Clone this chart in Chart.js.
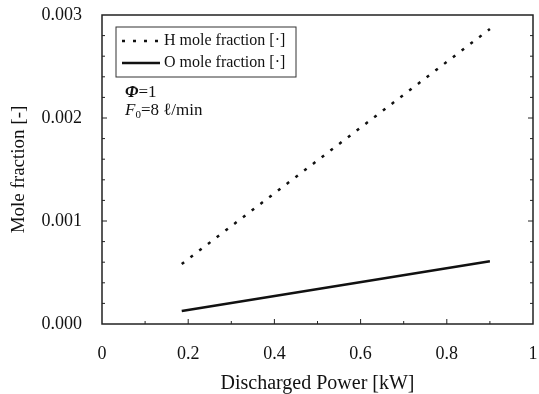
<!DOCTYPE html>
<html>
<head>
<meta charset="utf-8">
<script src="https://cdn.jsdelivr.net/npm/chart.js@4.4.1/dist/chart.umd.min.js"></script>
<style>
html,body{margin:0;padding:0;background:#fff;}
#wrap{width:539px;height:394px;position:relative;}
</style>
</head>
<body>
<div id="wrap"><canvas id="c" width="539" height="394"></canvas></div>
<script>
// ---- data ----
const powerKW = [0.185, 0.9];
const hMoleFraction = [0.000583, 0.002864];
const oMoleFraction = [0.000126, 0.000609];
const xTickLabels = ['0', '0.2', '0.4', '0.6', '0.8', '1'];
const yTickLabels = ['0.000', '0.001', '0.002', '0.003'];
const seriesNames = ['H mole fraction [·]', 'O mole fraction [·]'];
const xTitle = 'Discharged Power [kW]';
const yTitle = 'Mole fraction [-]';

const SERIF = '"Liberation Serif", "DejaVu Serif", serif';
const INK = '#111';

const frameAndTicks = {
  id: 'frameAndTicks',
  afterDatasetsDraw(chart) {
    const {ctx, chartArea: a, scales: {x, y}} = chart;
    ctx.save();
    ctx.strokeStyle = '#222';
    ctx.lineWidth = 1.5;
    ctx.strokeRect(a.left, a.top, a.right - a.left, a.bottom - a.top);
    ctx.lineWidth = 1;
    for (let i = 1; i < 10; i++) {
      const px = x.getPixelForValue(i / 10);
      const len = (i % 2 === 0) ? 5 : 3;
      ctx.beginPath();
      ctx.moveTo(px, a.bottom); ctx.lineTo(px, a.bottom - len);
      ctx.stroke();
    }
    for (let i = 1; i < 15; i++) {
      const py = y.getPixelForValue(i * 0.0002);
      const len = (i % 5 === 0) ? 5 : 3;
      ctx.beginPath();
      ctx.moveTo(a.left, py); ctx.lineTo(a.left + len, py);
      ctx.moveTo(a.right, py); ctx.lineTo(a.right - len, py);
      ctx.stroke();
    }
    ctx.restore();
  }
};

const legendBox = {
  id: 'legendBox',
  afterDraw(chart) {
    const {ctx, chartArea: a} = chart;
    const bx = a.left + 14, by = a.top + 12, bw = 180, bh = 50;
    ctx.save();
    ctx.fillStyle = '#fff';
    ctx.fillRect(bx, by, bw, bh);
    ctx.strokeStyle = '#333';
    ctx.lineWidth = 1;
    ctx.strokeRect(bx, by, bw, bh);
    const rows = [by + 14, by + 36];
    chart.data.datasets.forEach((ds, i) => {
      ctx.beginPath();
      ctx.strokeStyle = ds.borderColor;
      ctx.lineWidth = ds.borderWidth;
      ctx.setLineDash(ds.borderDash || []);
      ctx.moveTo(bx + 6, rows[i]);
      ctx.lineTo(bx + 44, rows[i]);
      ctx.stroke();
      ctx.setLineDash([]);
      ctx.fillStyle = INK;
      ctx.font = '16px ' + SERIF;
      ctx.textBaseline = 'middle';
      ctx.textAlign = 'left';
      ctx.fillText(ds.label, bx + 48, rows[i]);
    });
    ctx.fillStyle = INK;
    ctx.textBaseline = 'alphabetic';
    const tx = bx + 9;
    ctx.font = 'italic bold 17px ' + SERIF;
    ctx.fillText('Φ', tx, by + 70);
    let w = ctx.measureText('Φ').width;
    ctx.font = '17px ' + SERIF;
    ctx.fillText('=1', tx + w, by + 70);
    ctx.font = 'italic 17px ' + SERIF;
    ctx.fillText('F', tx, by + 88);
    w = ctx.measureText('F').width;
    ctx.font = '11px ' + SERIF;
    ctx.fillText('0', tx + w, by + 91);
    const w2 = ctx.measureText('0').width;
    ctx.font = '17px ' + SERIF;
    ctx.fillText('=8 ℓ/min', tx + w + w2, by + 88);
    ctx.restore();
  }
};

new Chart(document.getElementById('c'), {
  type: 'line',
  data: {
    datasets: [
      {
        label: seriesNames[0],
        data: powerKW.map((p, i) => ({x: p, y: hMoleFraction[i]})),
        borderColor: '#111',
        borderWidth: 2.5,
        borderDash: [3, 8],
        borderCapStyle: 'butt',
        pointRadius: 0,
        fill: false,
        tension: 0
      },
      {
        label: seriesNames[1],
        data: powerKW.map((p, i) => ({x: p, y: oMoleFraction[i]})),
        borderColor: '#111',
        borderWidth: 2.5,
        pointRadius: 0,
        fill: false,
        tension: 0
      }
    ]
  },
  options: {
    responsive: false,
    animation: false,
    devicePixelRatio: 1,
    layout: {padding: {top: 15, right: 6, bottom: 0, left: 0}},
    plugins: {legend: {display: false}, tooltip: {enabled: false}},
    scales: {
      x: {
        type: 'linear',
        min: 0, max: 1,
        afterFit(s) { s.height = 70; s.paddingLeft = 0; s.paddingRight = 0; },
        afterBuildTicks(s) { s.ticks = xTickLabels.map(t => ({value: parseFloat(t)})); },
        ticks: {
          callback: (v, i) => xTickLabels[i],
          font: {family: SERIF, size: 18},
          color: INK,
          padding: 19,
          maxRotation: 0,
          autoSkip: false
        },
        grid: {display: true, drawOnChartArea: false, drawTicks: false},
        border: {display: false},
        title: {
          display: true, text: xTitle,
          font: {family: SERIF, size: 20, lineHeight: 1},
          color: INK,
          padding: {top: 0, bottom: 0}
        }
      },
      y: {
        type: 'linear',
        min: 0, max: 0.003,
        afterFit(s) { s.width = 102; s.paddingTop = 0; s.paddingBottom = 0; },
        afterBuildTicks(s) { s.ticks = yTickLabels.map(t => ({value: parseFloat(t)})); },
        ticks: {
          callback: (v, i) => yTickLabels[i],
          font: {family: SERIF, size: 18},
          color: INK,
          padding: 20,
          autoSkip: false
        },
        grid: {display: true, drawOnChartArea: false, drawTicks: false},
        border: {display: false},
        title: {
          display: true, text: yTitle,
          font: {family: SERIF, size: 19},
          color: INK,
          padding: {top: 8, bottom: 0}
        }
      }
    }
  },
  plugins: [frameAndTicks, legendBox]
});
</script>
</body>
</html>
